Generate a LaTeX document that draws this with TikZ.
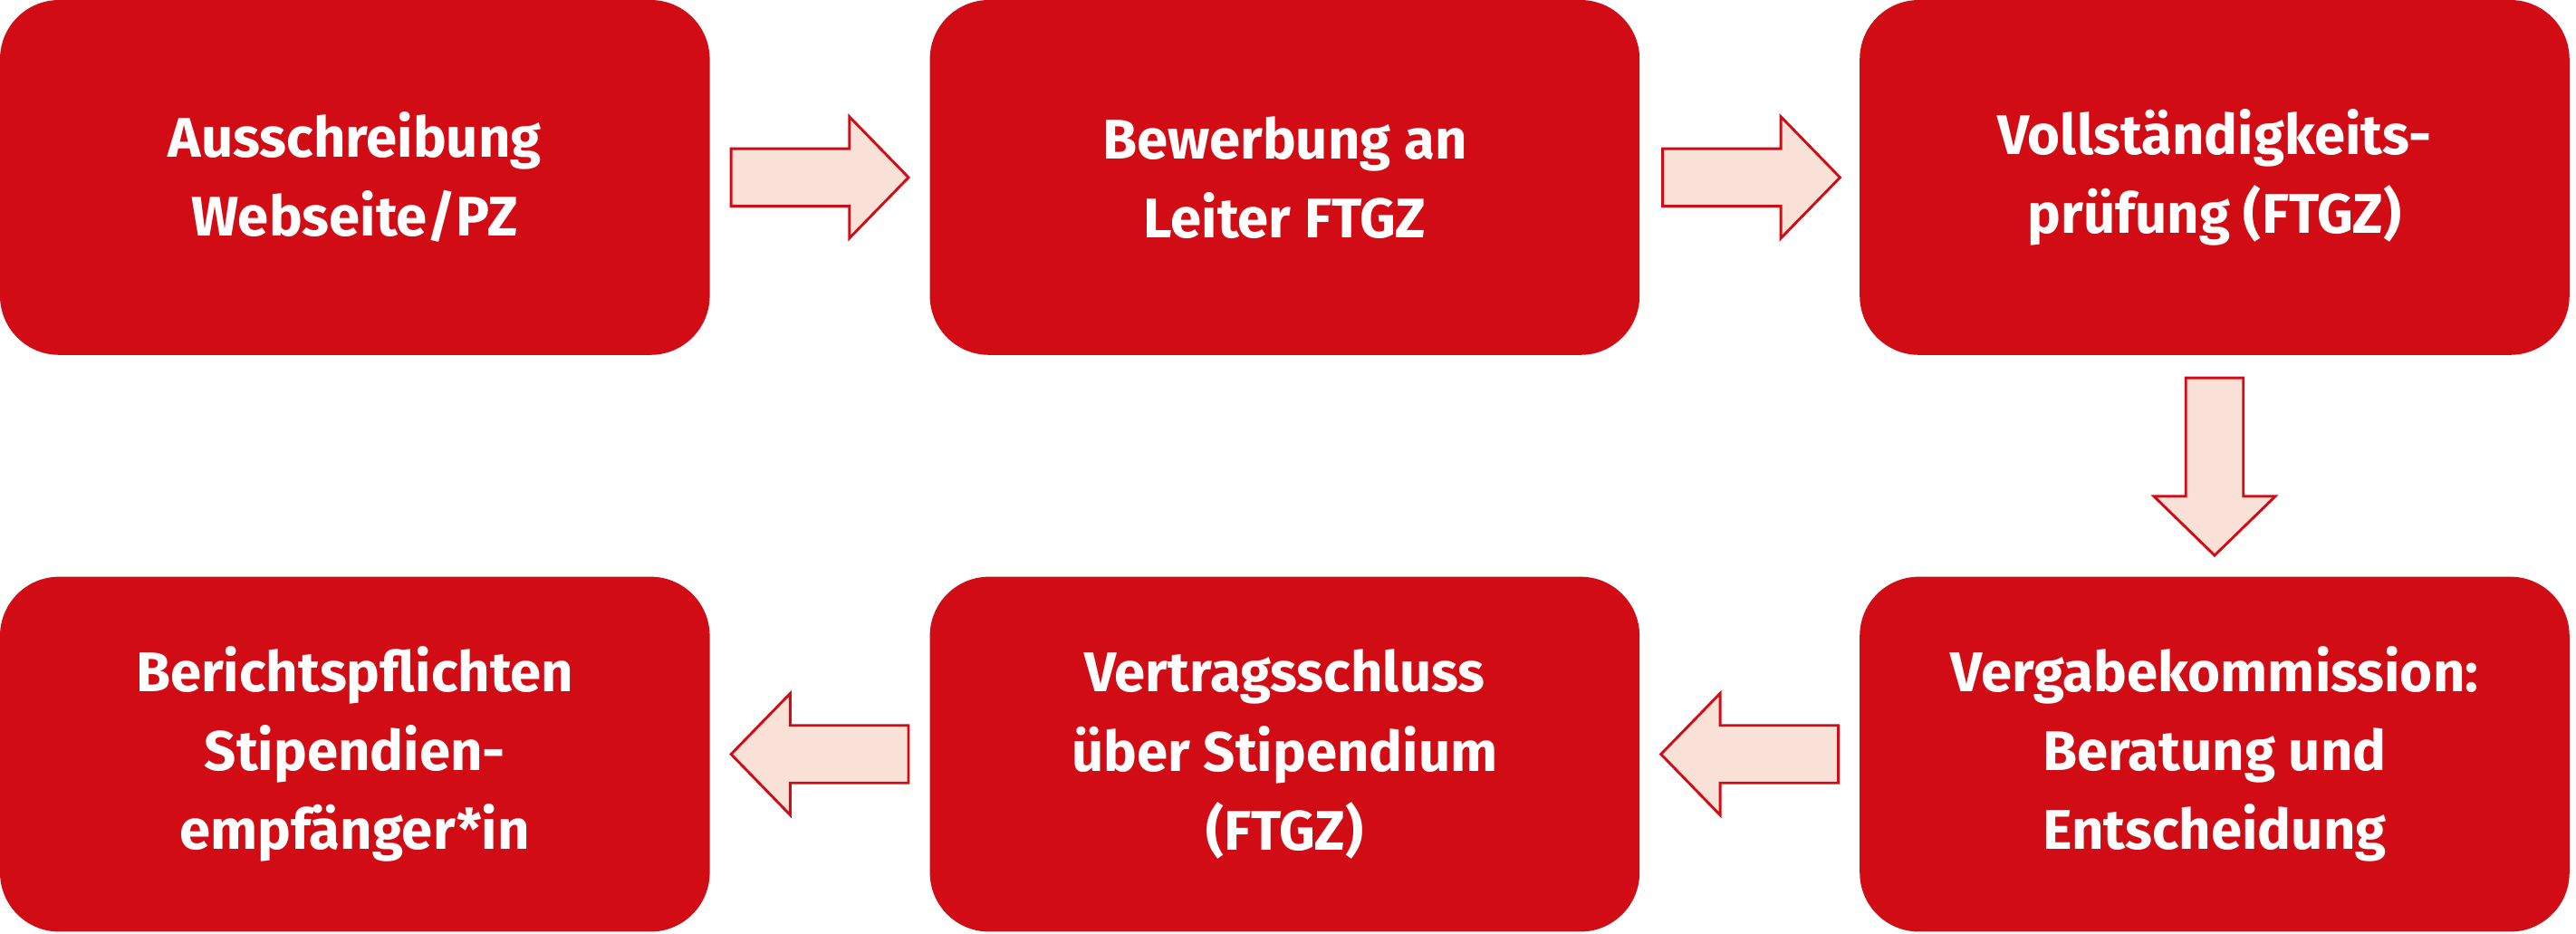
\documentclass[tikz,border=0pt]{standalone}
\usepackage{fontspec}
\setmainfont{Fira Sans}
\usetikzlibrary{positioning}
\definecolor{boxred}{HTML}{D10C15}
\definecolor{arrowfill}{HTML}{F9E1D8}
\tikzset{
  stage/.style={fill=boxred, rounded corners=18pt, minimum width=216pt,
    minimum height=108pt, text=white, align=center, inner sep=0pt,
    font=\fontsize{17}{24}\selectfont\bfseries},
  pics/flow/.style={code={
    \draw[boxred, fill=arrowfill, line width=0.8pt]
      (-27pt,-8.75pt) -- (9pt,-8.75pt) -- (9pt,-18.5pt) -- (27pt,0pt)
      -- (9pt,18.5pt) -- (9pt,8.75pt) -- (-27pt,8.75pt) -- cycle;
  }}
}
\begin{document}
\begin{tikzpicture}[x=0.5pt, y=-0.5pt]
  \useasboundingbox (0,0) rectangle (1568,568);

  \node (ausschreibung) [stage] at (216,108) {Ausschreibung\\Webseite/PZ};
  \node (bewerbung) [stage] at (782,108) {Bewerbung an\\Leiter FTGZ};
  \node (pruefung) [stage] at (1348,108) {Vollständigkeits-\\prüfung (FTGZ)};
  \node (vergabe) [stage] at (1348,459) {Vergabekommission:\\Beratung und\\Entscheidung};
  \node (vertrag) [stage] at (782,459) {Vertragsschluss\\über Stipendium\\(FTGZ)};
  \node (bericht) [stage] at (216,459) {Berichtspflichten\\Stipendien-\\empfänger*in};

  % block arrows between the stages
  \pic at (499,108) {flow};
  \pic at (1066,108) {flow};
  \pic[rotate=-90] at (1348,284) {flow};
  \pic[rotate=180] at (1065,459) {flow};
  \pic[rotate=180] at (499,459) {flow};
\end{tikzpicture}
\end{document}
